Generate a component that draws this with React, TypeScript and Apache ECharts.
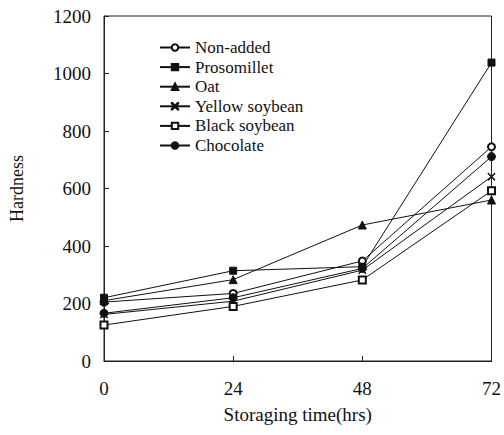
import React, { useEffect, useRef } from "react";
import * as echarts from "echarts";

const times = [0, 24, 48, 72];
const nonAdded = [205, 235, 348, 745];
const prosomillet = [220, 314, 328, 1038];
const oat = [210, 283, 473, 560];
const yellowSoybean = [162, 208, 316, 641];
const blackSoybean = [125, 190, 282, 592];
const chocolate = [166, 220, 322, 711];
const yTicks = [0, 200, 400, 600, 800, 1000, 1200];

const FONT = "Liberation Serif";
const CROSS =
  "path://M0,0L0.8,0L5,4.2L9.2,0L10,0L10,0.8L5.8,5L10,9.2L10,10L9.2,10L5,5.8L0.8,10L0,10L0,9.2L4.2,5L0,0.8Z";

const seriesDefs = [
  { name: "Non-added", data: nonAdded, symbol: "emptyCircle", size: 7 },
  { name: "Prosomillet", data: prosomillet, symbol: "rect", size: 7 },
  { name: "Oat", data: oat, symbol: "triangle", size: 8 },
  { name: "Yellow soybean", data: yellowSoybean, symbol: CROSS, size: 7 },
  { name: "Black soybean", data: blackSoybean, symbol: "emptyRect", size: 7 },
  { name: "Chocolate", data: chocolate, symbol: "circle", size: 8 },
];

export default function App() {
  const ref = useRef<HTMLDivElement>(null);
  useEffect(() => {
    if (!ref.current) return;
    const chart = echarts.init(ref.current, undefined, { renderer: "svg" });
    const txt = { fontFamily: FONT, fontSize: 19, color: "#111" };
    chart.setOption({
      animation: false,
      backgroundColor: "#fff",
      textStyle: { fontFamily: FONT, color: "#111" },
      grid: { left: 103, right: 8, top: 16, bottom: 74, show: true, borderColor: "#222", borderWidth: 1 },
      legend: {
        orient: "vertical",
        left: 154,
        top: 34,
        itemWidth: 30,
        itemHeight: 8,
        itemGap: 2.6,
        textStyle: { fontFamily: FONT, fontSize: 17, color: "#111" },
        data: seriesDefs.map((s) => s.name),
      },
      xAxis: {
        type: "value",
        min: 0,
        max: 72,
        interval: 24,
        name: "Storaging time(hrs)",
        nameLocation: "middle",
        nameGap: 44,
        nameTextStyle: txt,
        axisLine: { show: true, lineStyle: { color: "#222", width: 1 } },
        axisTick: { show: true, inside: true, length: 5, lineStyle: { color: "#222" } },
        axisLabel: { ...txt, margin: 18 },
        splitLine: { show: false },
      },
      yAxis: {
        type: "value",
        min: 0,
        max: 1200,
        interval: 200,
        name: "Hardness",
        nameLocation: "middle",
        nameGap: 78,
        nameTextStyle: { ...txt, fontSize: 18 },
        axisLine: { show: true, lineStyle: { color: "#222", width: 1 } },
        axisTick: { show: true, inside: true, length: 5, lineStyle: { color: "#222" } },
        axisLabel: {
          ...txt,
          margin: 13,
          formatter: (v: number) => (yTicks.includes(v) ? String(v) : ""),
        },
        splitLine: { show: false },
      },
      series: seriesDefs.map((s) => ({
        name: s.name,
        type: "line",
        data: times.map((t, i) => [t, s.data[i]]),
        symbol: s.symbol,
        symbolSize: s.size,
        showAllSymbol: true,
        clip: false,
        lineStyle: { color: "#111", width: 1 },
        itemStyle: { color: "#111", borderColor: "#111", borderWidth: 1 },
      })),
    });
    return () => chart.dispose();
  }, []);
  return <div ref={ref} style={{ width: 504, height: 435, position: "absolute", left: 0, top: 0 }} />;
}
